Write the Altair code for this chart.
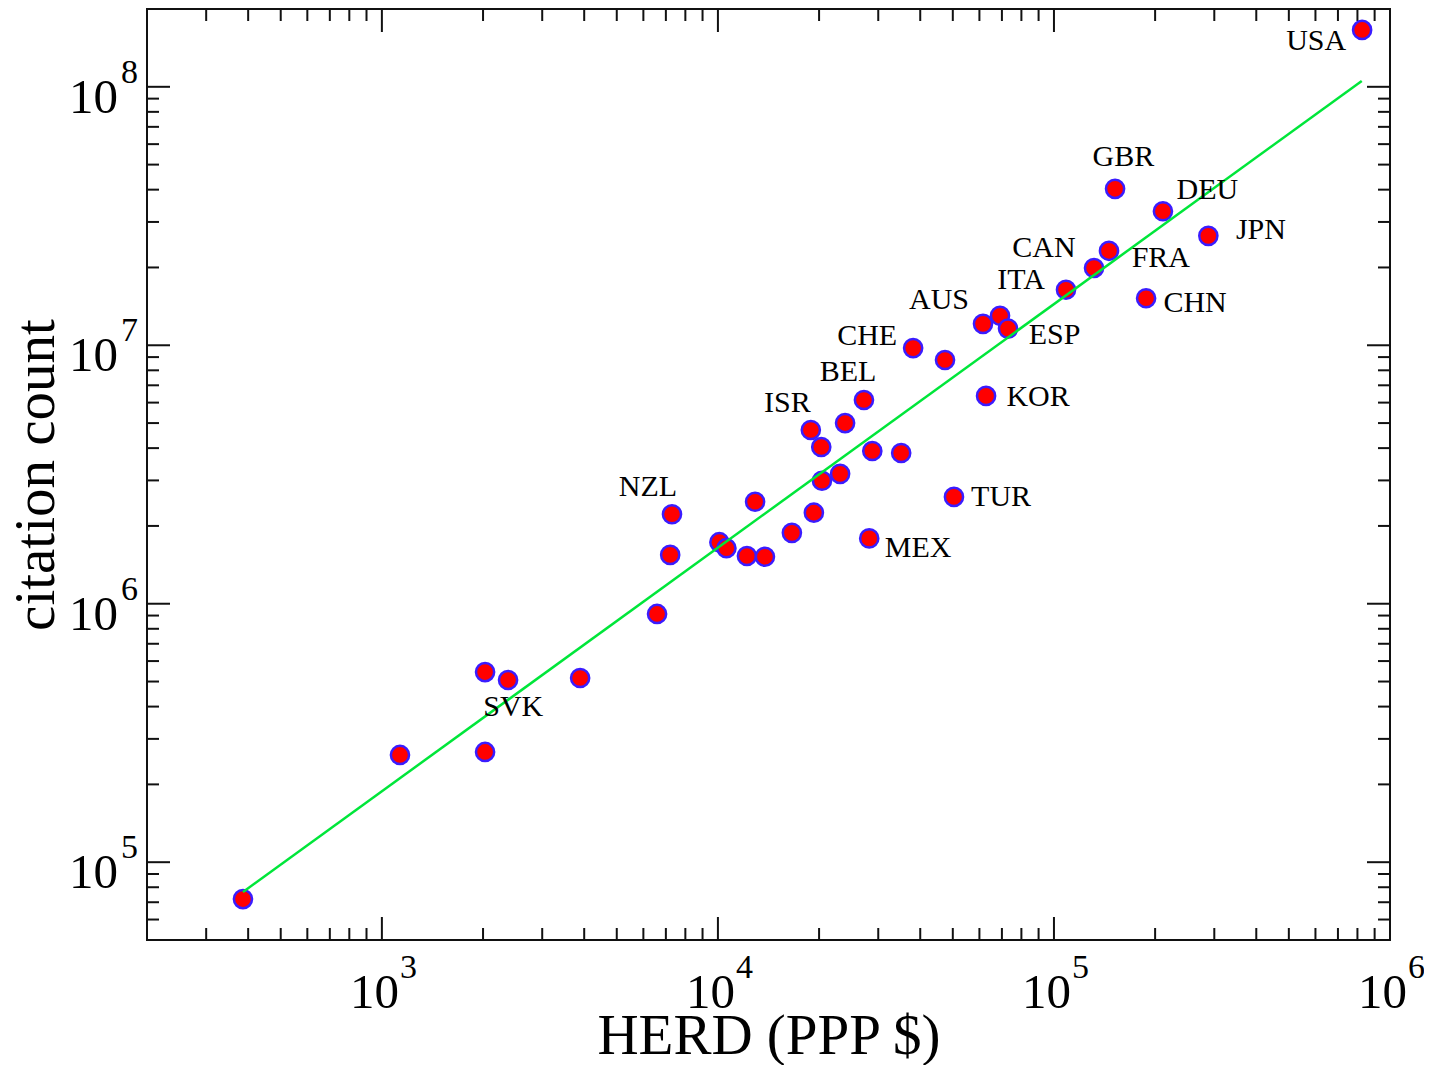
import altair as alt
import pandas as pd

# ---- data ----
herd = [386, 1132, 2028, 2028, 2374, 3890, 6590, 7210, 7300, 10100,
        10600, 12200, 13800, 12900, 16600, 19300, 20400, 23100, 18900, 20300,
        23900, 27200, 28800, 35100, 28200, 38100, 47400, 50400, 61500, 69100,
        73000, 62800, 108600, 131600, 145800, 152000, 211000, 188000, 288000, 826000]
citations = [72000, 260000, 267000, 544000, 507000, 516000, 913000, 1545000, 2220000, 1730000,
             1640000, 1530000, 1520000, 2480000, 1880000, 2250000, 2990000, 3180000, 4700000, 4040000,
             5000000, 6140000, 3900000, 3830000, 1790000, 9750000, 8770000, 2590000, 12100000, 13000000,
             11600000, 6370000, 16400000, 19900000, 23200000, 40300000, 33000000, 15200000, 26500000, 166000000]

fit_x = [386, 824000]
fit_y = [76700, 105300000]

label_text = ["USA", "GBR", "DEU", "JPN", "CAN", "FRA", "ITA", "CHN", "AUS",
              "ESP", "CHE", "KOR", "BEL", "ISR", "NZL", "TUR", "MEX", "SVK"]
label_x = [6.03e5, 1.61e5, 2.86e5, 4.13e5, 9.34e4, 2.08e5, 7.98e4, 2.63e5, 4.55e4,
           1.004e5, 2.78e4, 8.97e4, 2.44e4, 1.61e4, 6.19e3, 6.96e4, 3.94e4, 2.46e3]
label_y = [1.50e8, 5.33e7, 3.99e7, 2.79e7, 2.38e7, 2.18e7, 1.79e7, 1.46e7, 1.50e7,
           1.10e7, 1.09e7, 6.31e6, 7.88e6, 5.98e6, 2.83e6, 2.59e6, 1.64e6, 3.99e5]

x_major = [1e3, 1e4, 1e5, 1e6]
x_exp = ["3", "4", "5", "6"]
x_minor = [m * 10 ** e for e in range(2, 6) for m in range(2, 10) if 200 < m * 10 ** e < 1e6]
y_major = [1e5, 1e6, 1e7, 1e8]
y_exp = ["5", "6", "7", "8"]
y_minor = [m * 10 ** e for e in range(4, 8) for m in range(2, 10) if 5e4 < m * 10 ** e < 2e8]

# ---- layout ----
W, H = 1243, 931
MAJ, MIN = 23, 12
FONT = "Liberation Serif"

xscale = alt.Scale(type="log", domain=[200, 1e6], nice=False)
yscale = alt.Scale(type="log", domain=[5e4, 2e8], nice=False)

xaxis = alt.Axis(title="HERD (PPP $)", labels=False, ticks=False, domain=False, grid=False,
                 titleFont=FONT, titleFontSize=57, titleFontWeight="normal", titleColor="black",
                 titleBaseline="alphabetic", titleY=113)
yaxis = alt.Axis(title="citation count", labels=False, ticks=False, domain=False, grid=False,
                 titleFont=FONT, titleFontSize=57, titleFontWeight="normal", titleColor="black",
                 titleAngle=270, titleBaseline="alphabetic", titleAlign="center",
                 titleX=-94, titleY=H / 2)

def X(field):
    return alt.X(f"{field}:Q", scale=xscale, axis=xaxis)

def Y(field):
    return alt.Y(f"{field}:Q", scale=yscale, axis=yaxis)

pts = pd.DataFrame({"herd": herd, "cit": citations})
fit = pd.DataFrame({"herd": fit_x, "cit": fit_y})
labs = pd.DataFrame({"herd": label_x, "cit": label_y, "txt": label_text})
xmaj = pd.DataFrame({"herd": x_major, "exp": x_exp})
ymaj = pd.DataFrame({"cit": y_major, "exp": y_exp})
xmin_df = pd.DataFrame({"herd": x_minor})
ymin_df = pd.DataFrame({"cit": y_minor})

tick_style = dict(color="#111111", strokeWidth=2)

def xticks(df, L):
    bottom = alt.Chart(df).mark_rule(**tick_style).encode(
        x=X("herd"), y=alt.value(H), y2=alt.value(H - L))
    top = alt.Chart(df).mark_rule(**tick_style).encode(
        x=X("herd"), y=alt.value(0), y2=alt.value(L))
    return bottom + top

def yticks(df, L):
    left = alt.Chart(df).mark_rule(**tick_style).encode(
        y=Y("cit"), x=alt.value(0), x2=alt.value(L))
    right = alt.Chart(df).mark_rule(**tick_style).encode(
        y=Y("cit"), x=alt.value(W), x2=alt.value(W - L))
    return left + right

ticks = xticks(xmaj, MAJ) + xticks(xmin_df, MIN) + yticks(ymaj, MAJ) + yticks(ymin_df, MIN)

points = alt.Chart(pts).mark_circle(
    fill="#ff0000", stroke="#3a1cff", strokeWidth=2.5, opacity=1, size=330
).encode(x=X("herd"), y=Y("cit"))

line = alt.Chart(fit).mark_line(color="#00e63a", strokeWidth=2.5).encode(
    x=X("herd"), y=Y("cit"))

labels = alt.Chart(labs).mark_text(
    font=FONT, fontSize=30, color="black", align="center", baseline="middle"
).encode(x=X("herd"), y=Y("cit"), text="txt:N")

xlab_base = alt.Chart(xmaj).mark_text(
    font=FONT, fontSize=49, color="black", align="right", baseline="alphabetic", dx=17
).encode(x=X("herd"), y=alt.value(999), text=alt.value("10"))
xlab_exp = alt.Chart(xmaj).mark_text(
    font=FONT, fontSize=34, color="black", align="left", baseline="alphabetic", dx=18
).encode(x=X("herd"), y=alt.value(969), text="exp:N")

ylab_base = alt.Chart(ymaj).mark_text(
    font=FONT, fontSize=49, color="black", align="right", baseline="alphabetic", dy=26
).encode(y=Y("cit"), x=alt.value(-29), text=alt.value("10"))
ylab_exp = alt.Chart(ymaj).mark_text(
    font=FONT, fontSize=34, color="black", align="left", baseline="alphabetic", dy=-4
).encode(y=Y("cit"), x=alt.value(-26), text="exp:N")

chart = alt.layer(
    ticks, points, line, labels, xlab_base, xlab_exp, ylab_base, ylab_exp
).properties(
    width=W, height=H,
    autosize=alt.AutoSizeParams(type="none"),
    padding={"left": 139, "top": 1, "right": 34, "bottom": 125},
).configure(
    font=FONT, background="white"
).configure_view(
    stroke="#111111", strokeWidth=2
)

chart.save("out.html", embed_options={"renderer": "svg", "actions": False})
